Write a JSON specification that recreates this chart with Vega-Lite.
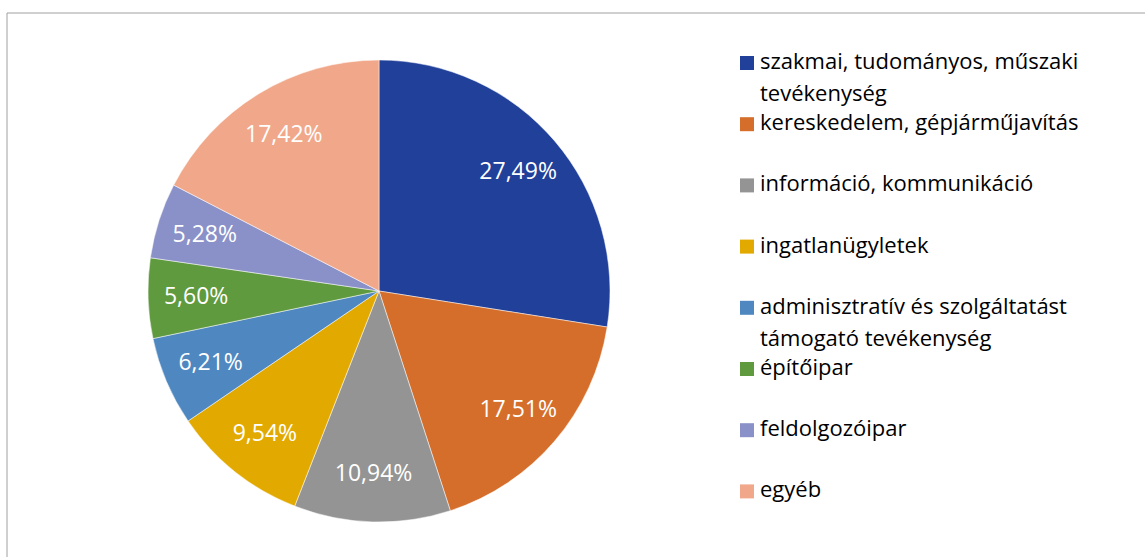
{
  "$schema": "https://vega.github.io/schema/vega-lite/v6.json",
  "width": 744,
  "height": 556,
  "padding": {"left": 7, "top": 13, "right": 394, "bottom": 0},
  "autosize": {"type": "none"},
  "background": "white",
  "config": {
    "view": {"stroke": null},
    "font": "Open Sans",
    "style": {"guide-label": {"lineHeight": 32, "dy": -11}}
  },
  "data": {
    "values": [
      {"sector": "szakmai, tudományos, műszaki tevékenység", "share": 27.49, "order": 1, "label": "27,49%"},
      {"sector": "kereskedelem, gépjárműjavítás", "share": 17.51, "order": 2, "label": "17,51%"},
      {"sector": "információ, kommunikáció", "share": 10.94, "order": 3, "label": "10,94%"},
      {"sector": "ingatlanügyletek", "share": 9.54, "order": 4, "label": "9,54%"},
      {"sector": "adminisztratív és szolgáltatást támogató tevékenység", "share": 6.21, "order": 5, "label": "6,21%"},
      {"sector": "építőipar", "share": 5.60, "order": 6, "label": "5,60%"},
      {"sector": "feldolgozóipar", "share": 5.28, "order": 7, "label": "5,28%"},
      {"sector": "egyéb", "share": 17.42, "order": 8, "label": "17,42%"}
    ]
  },
  "layer": [
    {
      "data": {"values": [{}]},
      "mark": {"type": "rule", "color": "#a0a0a0", "strokeWidth": 1},
      "encoding": {
        "x": {"datum": 0, "type": "quantitative", "scale": {"domain": [0, 1], "nice": false, "zero": false}, "axis": null},
        "y": {"datum": 0, "type": "quantitative", "scale": {"domain": [0, 1], "nice": false, "zero": false}, "axis": null},
        "y2": {"datum": 1}
      }
    },
    {
      "data": {"values": [{}]},
      "mark": {"type": "rule", "color": "#a0a0a0", "strokeWidth": 1},
      "encoding": {
        "x": {"datum": 0, "type": "quantitative"},
        "x2": {"datum": 2},
        "y": {"datum": 1, "type": "quantitative"}
      }
    },
    {
      "mark": {"type": "arc", "outerRadius": 231, "stroke": "white", "strokeWidth": 0.5},
      "encoding": {
        "theta": {"field": "share", "type": "quantitative", "stack": true},
        "order": {"field": "order", "type": "quantitative"},
        "color": {
          "field": "sector",
          "type": "nominal",
          "scale": {
            "domain": [
              "szakmai, tudományos, műszaki tevékenység",
              "kereskedelem, gépjárműjavítás",
              "információ, kommunikáció",
              "ingatlanügyletek",
              "adminisztratív és szolgáltatást támogató tevékenység",
              "építőipar",
              "feldolgozóipar",
              "egyéb"
            ],
            "range": ["#21409A", "#D56E2B", "#949494", "#E2AA00", "#4F88C0", "#5F9A3E", "#8A91C8", "#F1A88A"]
          },
          "legend": {
            "title": null,
            "orient": "none",
            "legendX": 729,
            "legendY": 39,
            "symbolType": "square",
            "symbolSize": 196,
            "symbolStrokeWidth": 0,
            "labelFont": "Open Sans",
            "labelFontSize": 22,
            "labelColor": "#000000",
            "labelLimit": 600,
            "labelOffset": 2,
            "labelBaseline": "top",
            "gridAlign": "all",
            "rowPadding": 7.2,
            "labelExpr": "datum.label == 'szakmai, tudományos, műszaki tevékenység' ? ['szakmai, tudományos, műszaki', 'tevékenység'] : datum.label == 'adminisztratív és szolgáltatást támogató tevékenység' ? ['adminisztratív és szolgáltatást', 'támogató tevékenység'] : datum.label"
          }
        }
      }
    },
    {
      "mark": {"type": "text", "radius": 183, "fill": "white", "fontSize": 23, "font": "Open Sans"},
      "encoding": {
        "theta": {"field": "share", "type": "quantitative", "stack": true},
        "order": {"field": "order", "type": "quantitative"},
        "text": {"field": "label", "type": "nominal"}
      }
    }
  ]
}
